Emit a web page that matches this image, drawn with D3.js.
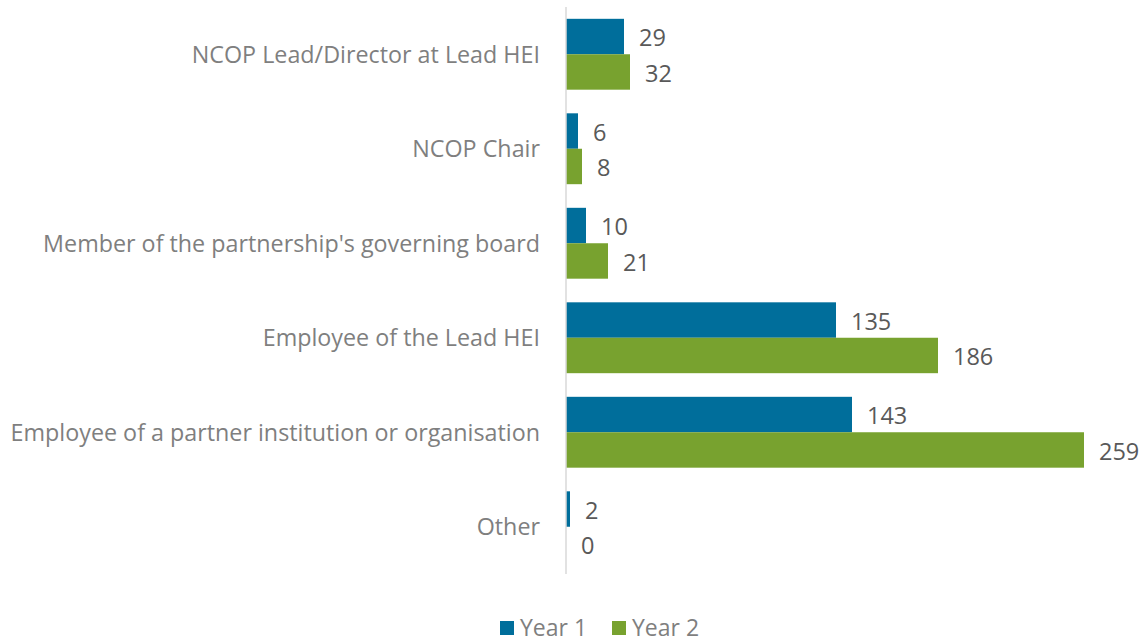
<!DOCTYPE html>
<html>
<head>
<meta charset="utf-8">
<script src="https://cdn.jsdelivr.net/npm/d3@7"></script>
<style>
  html, body { margin: 0; padding: 0; background: #fff; }
  svg { display: block; }
  text { font-family: "Open Sans", "Liberation Sans", sans-serif; }
</style>
</head>
<body>
<svg id="chart" width="1148" height="644"></svg>
<script>
const categories = [
  "NCOP Lead/Director at Lead HEI",
  "NCOP Chair",
  "Member of the partnership's governing board",
  "Employee of the Lead HEI",
  "Employee of a partner institution or organisation",
  "Other"
];
const seriesNames = ["Year 1", "Year 2"];
const year1 = [29, 6, 10, 135, 143, 2];
const year2 = [32, 8, 21, 186, 259, 0];
const colors = ["#006E9B", "#78A22F"];

const svg = d3.select("#chart");
const x0 = 566;
const x = d3.scaleLinear().domain([0, 100]).range([x0, x0 + 200]);
const y = d3.scaleBand().domain(categories).range([7, 574]).paddingInner(0.25).paddingOuter(0.125);
const ySub = d3.scaleBand().domain(seriesNames).range([0, y.bandwidth()]);

const data = categories.map((c, i) => ({cat: c, vals: [year1[i], year2[i]]}));

const groups = svg.selectAll("g.grp").data(data).join("g")
  .attr("class", "grp")
  .attr("transform", d => `translate(0,${y(d.cat)})`);

groups.selectAll("rect").data(d => d.vals.map((v, j) => ({v, s: seriesNames[j], j})))
  .join("rect")
  .attr("x", x(0))
  .attr("y", d => ySub(d.s))
  .attr("width", d => x(d.v) - x(0))
  .attr("height", ySub.bandwidth())
  .attr("fill", d => colors[d.j]);

groups.selectAll("text.val").data(d => d.vals.map((v, j) => ({v, s: seriesNames[j], j})))
  .join("text")
  .attr("class", "val")
  .attr("x", d => x(d.v) + 15)
  .attr("y", d => ySub(d.s) + ySub.bandwidth() / 2)
  .attr("dy", "0.42em")
  .attr("font-size", 23.5)
  .attr("fill", "#595959")
  .text(d => d.v);

// axis line
svg.append("line")
  .attr("x1", x(0)).attr("x2", x(0))
  .attr("y1", 7).attr("y2", 574)
  .attr("stroke", "#d9d9d9").attr("stroke-width", 1.5);

// category labels
svg.selectAll("text.cat").data(categories).join("text")
  .attr("class", "cat")
  .attr("x", 540)
  .attr("y", d => y(d) + y.bandwidth() / 2)
  .attr("dy", "0.36em")
  .attr("text-anchor", "end")
  .attr("font-size", 23.3)
  .attr("fill", "#7f7f7f")
  .text(d => d);

// legend
const legendX = [500, 612];
const lg = svg.selectAll("g.leg").data(seriesNames).join("g")
  .attr("class", "leg")
  .attr("transform", (d, i) => `translate(${legendX[i]},620)`);
lg.append("rect").attr("x", 0).attr("y", 1).attr("width", 14).attr("height", 14)
  .attr("fill", (d, i) => colors[i]);
lg.append("text").attr("x", 20).attr("y", 8).attr("dy", "0.36em")
  .attr("font-size", 23).attr("fill", "#7f7f7f").text(d => d);
</script>
</body>
</html>
